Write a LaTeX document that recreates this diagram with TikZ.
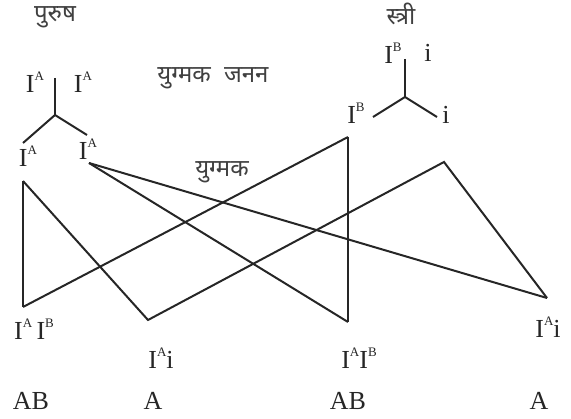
\documentclass[tikz,border=0pt]{standalone}
\usepackage{fontspec}
\setmainfont{Liberation Serif}
\newfontfamily\dev[Script=Devanagari]{Noto Sans}
\newcommand\sups[1]{\raisebox{11.5pt}{\fontsize{13}{13}\selectfont #1}}
\begin{document}
\begin{tikzpicture}[x=1pt,y=-1pt,
  lbl/.style={inner sep=0pt,font=\fontsize{26}{26}\selectfont,text=black!85},
  dlbl/.style={inner sep=0pt,font=\dev\fontsize{24}{26}\selectfont,text=black!75},
  ln/.style={line width=2pt,draw=black!85,line join=miter},
  vln/.style={line width=2.7pt,draw=black!85}]
\useasboundingbox (0,0) rectangle (571,419);
% Devanagari titles
\node[dlbl] (purush) at (55,17) {पुरुष};
\node[dlbl] (stri) at (401,14) {स्त्री};
\node[dlbl] (yjanan) at (213,78) {युग्मक\hspace{7pt} जनन};
\node[dlbl] (yug) at (222,172) {युग्मक};
% male cross
\node[lbl] (m1) at (35,82) {I\sups{A}};
\node[lbl] (m2) at (83,82) {I\sups{A}};
\node[lbl] (m3) at (28,156) {I\sups{A}};
\node[lbl] (m4) at (88,149) {I\sups{A}};
\coordinate (mt) at (55,78);
\coordinate (mj) at (55,115);
\coordinate (ml) at (23,143);
\coordinate (mr) at (87,135);
\draw[vln] (mt) -- (mj);
\draw[ln] (ml) -- (mj) -- (mr);
% female cross
\node[lbl] (f1) at (393,53) {I\sups{B}};
\node[lbl] (f2) at (428,53) {i};
\node[lbl] (f3) at (356,113) {I\sups{B}};
\node[lbl] (f4) at (446,115) {i};
\coordinate (ft) at (405,59);
\coordinate (fj) at (405,97);
\coordinate (fl) at (373,117);
\coordinate (fr) at (437,117);
\draw[vln] (ft) -- (fj);
\draw[ln] (fl) -- (fj) -- (fr);
% crossing lines
\coordinate (a1) at (23,181);
\coordinate (a2) at (23,307);
\coordinate (b1) at (89,163);
\coordinate (c) at (148,320);
\coordinate (d) at (348,137);
\coordinate (d2) at (348,322);
\coordinate (e) at (444,162);
\coordinate (f) at (547,298);
\draw[vln] (a1) -- (a2);
\draw[ln] (a2) -- (d);
\draw[vln] (d) -- (d2);
\draw[ln] (a1) -- (c) -- (e) -- (f);
\draw[ln] (b1) -- (f);
\draw[ln] (b1) -- (d2);
% offspring
\node[lbl] (o1) at (34,329) {I\sups{A}\,I\sups{B}};
\node[lbl] (o2) at (161,358) {I\sups{A}i};
\node[lbl] (o3) at (359,358) {I\sups{A}I\sups{B}};
\node[lbl] (o4) at (548,327) {I\sups{A}i};
\node[lbl] (p1) at (31,401) {AB};
\node[lbl] (p2) at (153,401) {A};
\node[lbl] (p3) at (348,401) {AB};
\node[lbl] (p4) at (539,401) {A};
\end{tikzpicture}
\end{document}
